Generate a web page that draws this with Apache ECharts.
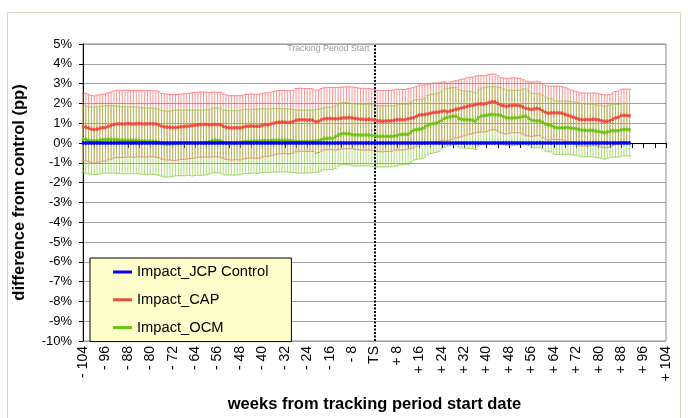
<!DOCTYPE html>
<html>
<head>
<meta charset="utf-8">
<script src="https://cdn.jsdelivr.net/npm/echarts@6/dist/echarts.min.js"></script>
<style>
  html, body { margin: 0; padding: 0; background: #fff; }
  #chart { width: 688px; height: 418px; }
</style>
</head>
<body>
<div id="chart"></div>
<script>
// weeks from tracking period start, -104 .. +104
const weeks = [];
for (let w = -104; w <= 104; w++) weeks.push(w);

const seriesNames = ["Impact_JCP Control", "Impact_CAP", "Impact_OCM"];

// weekly values, week -104 .. +91 (pp)
const control = new Array(196).fill(0);

const cap = [
  0.82,0.80,0.75,0.70,0.68,0.70,0.74,0.77,0.78,0.84,
  0.88,0.93,0.96,0.97,0.96,0.97,0.98,0.97,0.96,0.97,
  0.98,0.97,0.96,0.97,0.98,0.97,0.96,0.92,0.85,0.82,
  0.80,0.80,0.78,0.78,0.80,0.82,0.83,0.84,0.86,0.88,
  0.90,0.92,0.93,0.94,0.93,0.92,0.93,0.94,0.93,0.92,
  0.85,0.80,0.77,0.76,0.77,0.77,0.76,0.80,0.84,0.85,
  0.86,0.85,0.84,0.85,0.90,0.93,0.92,0.96,1.00,1.03,
  1.05,1.06,1.05,1.04,1.05,1.08,1.15,1.17,1.18,1.17,
  1.16,1.17,1.15,1.07,1.10,1.17,1.22,1.23,1.24,1.23,
  1.22,1.23,1.25,1.27,1.27,1.28,1.27,1.24,1.23,1.20,
  1.20,1.19,1.20,1.18,1.16,1.12,1.11,1.10,1.11,1.12,
  1.12,1.15,1.18,1.18,1.17,1.18,1.22,1.25,1.28,1.35,
  1.42,1.43,1.44,1.47,1.50,1.54,1.55,1.56,1.60,1.62,
  1.57,1.62,1.65,1.70,1.73,1.77,1.80,1.85,1.88,1.90,
  1.95,1.97,1.98,1.97,2.00,2.05,2.08,2.07,2.00,1.92,
  1.88,1.85,1.88,1.90,1.91,1.90,1.88,1.82,1.75,1.72,
  1.70,1.72,1.75,1.72,1.62,1.55,1.50,1.52,1.53,1.52,
  1.52,1.50,1.45,1.40,1.35,1.30,1.25,1.20,1.18,1.18,
  1.19,1.18,1.20,1.19,1.17,1.12,1.10,1.10,1.12,1.20,
  1.27,1.30,1.38,1.40,1.39,1.38
];

const ocm = [
  0.20,0.18,0.13,0.12,0.11,0.12,0.14,0.17,0.18,0.19,
  0.18,0.18,0.17,0.15,0.14,0.14,0.13,0.14,0.14,0.13,
  0.12,0.10,0.10,0.09,0.10,0.08,0.07,0.04,-0.02,-0.05,
  -0.06,-0.05,-0.03,0.00,0.01,0.00,0.01,0.02,0.01,0.00,
  0.01,0.02,0.01,0.02,0.03,0.06,0.12,0.14,0.13,0.12,
  0.04,0.01,0.00,0.01,0.00,0.01,0.02,0.06,0.08,0.07,
  0.08,0.10,0.09,0.10,0.12,0.12,0.11,0.13,0.14,0.13,
  0.14,0.13,0.14,0.13,0.12,0.10,0.08,0.07,0.06,0.07,
  0.08,0.07,0.09,0.10,0.12,0.16,0.22,0.23,0.24,0.23,
  0.30,0.40,0.46,0.48,0.47,0.46,0.42,0.40,0.41,0.40,
  0.40,0.41,0.40,0.38,0.36,0.34,0.33,0.34,0.33,0.34,
  0.33,0.35,0.38,0.42,0.43,0.44,0.43,0.55,0.65,0.68,
  0.70,0.72,0.80,0.90,0.96,0.98,1.00,1.05,1.15,1.25,
  1.30,1.32,1.35,1.35,1.25,1.20,1.18,1.18,1.17,1.15,
  1.10,1.28,1.36,1.38,1.40,1.43,1.44,1.43,1.42,1.40,
  1.33,1.28,1.27,1.26,1.27,1.28,1.30,1.35,1.35,1.25,
  1.15,1.13,1.12,1.12,1.05,0.95,0.92,0.90,0.80,0.77,
  0.76,0.77,0.76,0.78,0.75,0.74,0.72,0.68,0.65,0.64,
  0.63,0.64,0.63,0.60,0.58,0.56,0.52,0.55,0.60,0.62,
  0.62,0.62,0.66,0.68,0.68,0.67
];

// half length of the error bars (pp), same for CAP and OCM
const errHalf = [
  1.70,1.70,1.69,1.70,1.70,1.71,1.70,1.69,1.70,1.70,
  1.70,1.69,1.70,1.69,1.69,1.70,1.69,1.68,1.69,1.68,
  1.68,1.68,1.67,1.68,1.67,1.67,1.68,1.67,1.66,1.67,
  1.66,1.66,1.67,1.66,1.66,1.65,1.66,1.65,1.65,1.66,
  1.65,1.64,1.65,1.64,1.64,1.63,1.64,1.63,1.63,1.64,
  1.63,1.63,1.62,1.63,1.62,1.62,1.63,1.62,1.62,1.61,
  1.62,1.61,1.62,1.61,1.61,1.60,1.61,1.60,1.61,1.60,
  1.60,1.60,1.59,1.60,1.59,1.59,1.60,1.59,1.59,1.58,
  1.59,1.58,1.58,1.59,1.58,1.58,1.57,1.58,1.57,1.57,
  1.58,1.57,1.57,1.56,1.57,1.56,1.56,1.57,1.56,1.56,
  1.56,1.55,1.56,1.55,1.55,1.55,1.54,1.55,1.54,1.54,
  1.54,1.53,1.54,1.53,1.53,1.52,1.53,1.52,1.52,1.51,
  1.51,1.50,1.50,1.50,1.49,1.49,1.48,1.48,1.47,1.47,
  1.46,1.46,1.46,1.45,1.45,1.45,1.44,1.44,1.44,1.43,
  1.43,1.43,1.42,1.42,1.42,1.41,1.41,1.41,1.40,1.40,
  1.40,1.40,1.39,1.39,1.39,1.38,1.38,1.38,1.38,1.37,
  1.37,1.37,1.37,1.36,1.36,1.36,1.36,1.35,1.35,1.35,
  1.35,1.35,1.35,1.34,1.34,1.34,1.34,1.34,1.34,1.34,
  1.33,1.33,1.33,1.33,1.33,1.33,1.33,1.33,1.33,1.33,
  1.33,1.33,1.33,1.33,1.33,1.33
];

const yTicks = { min: -10, max: 5, interval: 1 };

const FONT = "Arial, 'Liberation Sans', sans-serif";

function weekLabel(w) {
  w = Number(w);
  if (w === 0) return "TS";
  return (w < 0 ? "- " : "+ ") + Math.abs(w);
}

function errData(mean) {
  return mean.map((v, i) => [i, v - errHalf[i], v + errHalf[i]]);
}

function errorBars(color) {
  return function (params, api) {
    const lo = api.coord([api.value(0), api.value(1)]);
    const hi = api.coord([api.value(0), api.value(2)]);
    const style = { stroke: color, lineWidth: 1 };
    return {
      type: "group",
      children: [
        { type: "line", shape: { x1: hi[0], y1: hi[1], x2: lo[0], y2: lo[1] }, style: style },
        { type: "line", shape: { x1: hi[0] - 1.6, y1: hi[1], x2: hi[0] + 1.6, y2: hi[1] }, style: style },
        { type: "line", shape: { x1: lo[0] - 1.6, y1: lo[1], x2: lo[0] + 1.6, y2: lo[1] }, style: style }
      ]
    };
  };
}

const chart = echarts.init(document.getElementById("chart"));

function meanSeries(name, data, color, z, width) {
  return {
    name: name,
    type: "line",
    data: data,
    z: z,
    symbol: "rect",
    symbolSize: [2.2, 3.5],
    showAllSymbol: true,
    itemStyle: { color: color },
    lineStyle: { color: color, width: width },
    animation: false
  };
}

const option = {
  animation: false,
  backgroundColor: "#fff",
  grid: {
    left: 83, top: 44, width: 583, height: 300,
    show: true, borderColor: "#8c8c8c", borderWidth: 1
  },
  legend: {
    orient: "vertical",
    left: 90, top: 258,
    backgroundColor: "#ffffcc",
    borderColor: "#000",
    borderWidth: 1,
    borderRadius: 0,
    padding: [6.5, 23, 6.5, 23],
    itemWidth: 19, itemHeight: 3,
    itemGap: 12.8,
    textStyle: { fontFamily: FONT, fontSize: 14.7, color: "#000" },
    data: seriesNames.map(n => ({ name: n, icon: "rect" }))
  },
  xAxis: {
    type: "category",
    data: weeks,
    boundaryGap: false,
    name: "weeks from tracking period start date",
    nameLocation: "middle",
    nameGap: 55,
    nameTextStyle: { fontFamily: FONT, fontSize: 16.5, fontWeight: "bold", color: "#000" },
    axisLine: { lineStyle: { color: "#000", width: 1 } },
    axisTick: { interval: 3, length: 5, lineStyle: { color: "#000" } },
    axisLabel: {
      interval: 7, rotate: 90, margin: 5,
      fontFamily: FONT, fontSize: 14, color: "#000",
      formatter: weekLabel
    },
    splitLine: { show: false }
  },
  yAxis: {
    type: "value",
    min: yTicks.min, max: yTicks.max, interval: yTicks.interval,
    name: "difference from control (pp)",
    nameLocation: "middle",
    nameGap: 55,
    nameTextStyle: { fontFamily: FONT, fontSize: 16.5, fontWeight: "bold", color: "#000" },
    axisLine: { show: true, lineStyle: { color: "#000", width: 1 } },
    axisTick: { show: true, length: 4, lineStyle: { color: "#000" } },
    axisLabel: {
      margin: 11, fontFamily: FONT, fontSize: 13, color: "#000",
      formatter: v => v + "%"
    },
    splitLine: { lineStyle: { color: "#a0a0a0", width: 1 } }
  },
  series: [
    {
      type: "custom",
      name: "capErr",
      renderItem: errorBars("rgba(255,105,105,0.72)"),
      data: errData(cap),
      encode: { x: 0, y: [1, 2] },
      z: 2,
      silent: true
    },
    {
      type: "custom",
      name: "ocmErr",
      renderItem: errorBars("rgba(140,205,65,0.72)"),
      data: errData(ocm),
      encode: { x: 0, y: [1, 2] },
      z: 3,
      silent: true
    },
    meanSeries(seriesNames[1], cap, "#ee4a3a", 5, 1.5),
    meanSeries(seriesNames[2], ocm, "#6cc210", 6, 1.5),
    Object.assign(meanSeries(seriesNames[0], control, "#0000ff", 7, 2.5), {
      markLine: {
        silent: true,
        symbol: "none",
        label: { show: false },
        lineStyle: { color: "#000", type: [2, 1.5], width: 2 },
        data: [{ xAxis: "0" }]
      }
    })
  ]
};

chart.setOption(option);

// frame and the "Tracking Period Start" note next to the TS line
const tsX = chart.convertToPixel({ xAxisIndex: 0 }, "0");
chart.setOption({
  graphic: [
    {
      type: "rect",
      shape: { x: 7.5, y: 12.5, width: 673, height: 420 },
      style: { fill: "none", stroke: "#ddd8c6", lineWidth: 1 },
      silent: true
    },
    {
      type: "text",
      x: tsX - 5, y: 49,
      style: {
        text: "Tracking Period Start",
        fill: "#999", fontSize: 8.8, fontFamily: FONT,
        textAlign: "right", textVerticalAlign: "middle"
      },
      silent: true
    }
  ]
});
</script>
</body>
</html>
